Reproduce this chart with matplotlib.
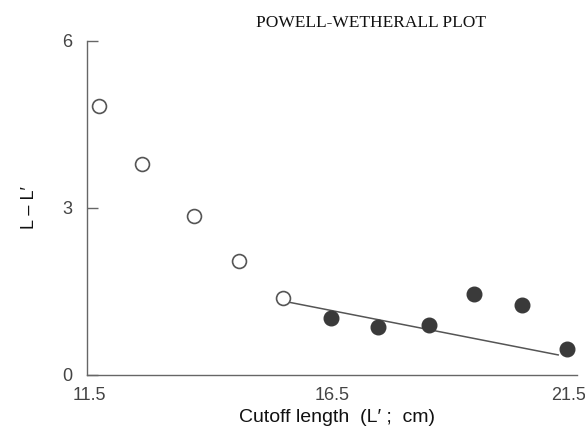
import matplotlib
matplotlib.use("Agg")
import matplotlib.pyplot as plt
from matplotlib.transforms import ScaledTranslation

plt.rcParams['font.family'] = ['Liberation Sans', 'DejaVu Sans']

# cutoff lengths (cm) and mean length minus cutoff
x_open = [11.75, 12.64, 13.69, 14.60, 15.50]
y_open = [4.84, 3.79, 2.86, 2.04, 1.38]
x_fill = [16.49, 17.44, 18.49, 19.41, 20.39, 21.30]
y_fill = [1.03, 0.86, 0.90, 1.45, 1.26, 0.46]

# fitted line over the right-hand points
x_fit = [15.61, 21.12]
y_fit = [1.31, 0.36]

xticks = [11.5, 16.5, 21.5]
yticks = [0, 3, 6]

fig = plt.figure(figsize=(5.85, 4.36), dpi=100)
ax = fig.add_axes([0.148, 0.14, 0.838, 0.766])

grey = '#555555'
ax.plot(x_fit, y_fit, '-', color=grey, lw=1.1, zorder=2)
ax.plot(x_open, y_open, 'o', ms=10, mfc='white', mec=grey, mew=1.2, zorder=3)
ax.plot(x_fill, y_fill, 'o', ms=10.5, mfc='#3a3a3a', mec='#3a3a3a', zorder=3)

ax.set_xlim(11.5, 21.5)
ax.set_ylim(0, 6)
ax.set_xticks(xticks)
ax.set_xticklabels(['11.5', '16.5', '21.5'])
ax.set_yticks(yticks)

for s in ['top', 'right']:
    ax.spines[s].set_visible(False)
for s in ['left', 'bottom']:
    ax.spines[s].set_color('#666666')
    ax.spines[s].set_linewidth(1.0)

ax.tick_params(axis='y', direction='in', length=8, width=1.0, color='#666666',
               labelsize=13, labelcolor='#444444', pad=10)
ax.tick_params(axis='x', length=0, labelsize=13, labelcolor='#444444', pad=9)

# nudge the end labels so they sit inside the figure
labels = ax.get_xticklabels()
labels[0].set_transform(labels[0].get_transform() + ScaledTranslation(0.03, 0, fig.dpi_scale_trans))
labels[-1].set_transform(labels[-1].get_transform() + ScaledTranslation(-0.08, 0, fig.dpi_scale_trans))

ax.set_xlabel('Cutoff length  (L\u2032 ;  cm)', fontsize=14, color='#111111', labelpad=2)
ax.xaxis.set_label_coords(0.51, -0.103)
ax.set_ylabel('L \u2013 L\u2032', fontsize=13, color='#111111', labelpad=18)

fig.text(0.634, 0.948, 'POWELL-WETHERALL PLOT', ha='center', va='center',
         fontsize=12.5, family=['Liberation Serif', 'DejaVu Serif'], color='#111111')

fig.savefig('out.png', dpi=100)
